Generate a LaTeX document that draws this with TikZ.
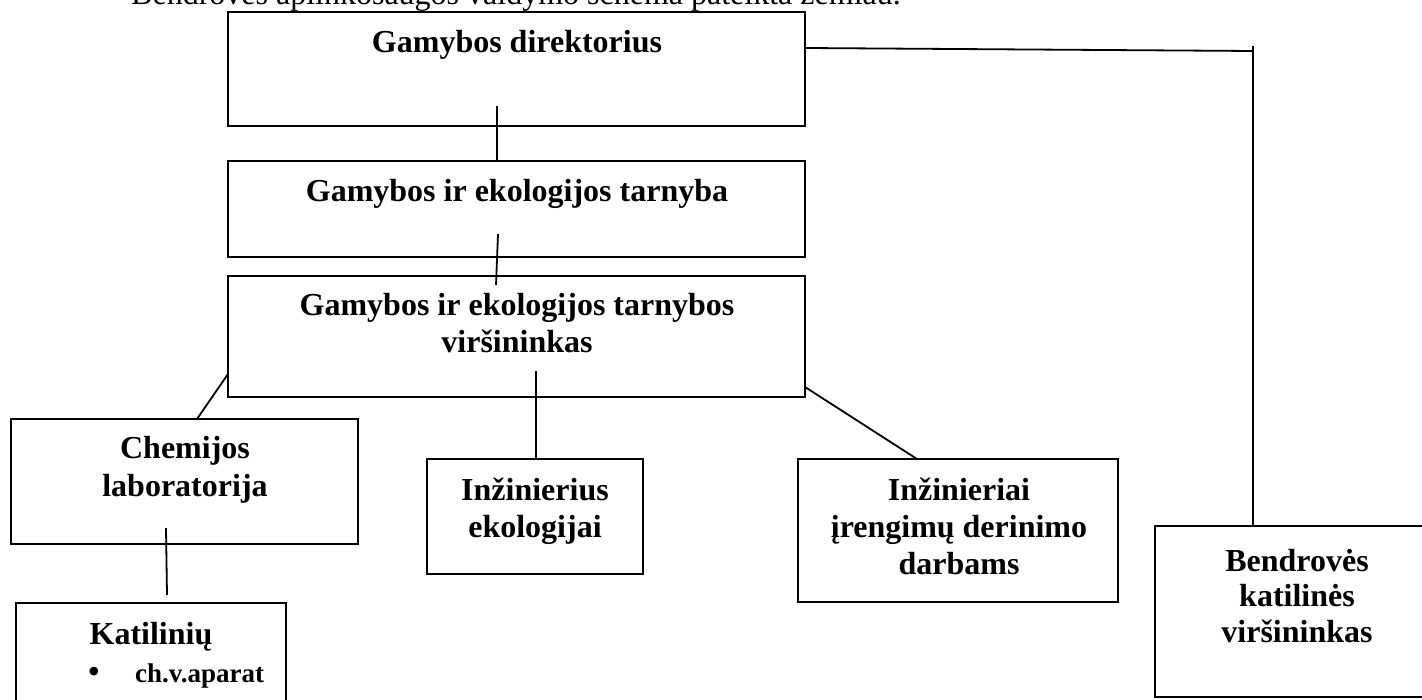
\documentclass[tikz,border=0pt]{standalone}
\usepackage{fontspec}
\setmainfont{Liberation Serif}
\tikzset{
  box/.style={draw=black, line width=2.6pt, inner sep=0pt, fill=none},
  conn/.style={draw=black, line width=1.8pt},
  lbl/.style={font=\fontsize{32}{37}\selectfont\bfseries, inner sep=0pt, anchor=base},
  small/.style={font=\fontsize{27}{32}\selectfont\bfseries, inner sep=0pt, anchor=base west},
  hdr/.style={font=\fontsize{32}{37}\selectfont, inner sep=0pt, anchor=base west}
}
\begin{document}
\begin{tikzpicture}[x=1pt,y=-1pt]
\useasboundingbox (0,0) rectangle (1422,700);
\clip (0,0) rectangle (1422,700);
\fill[white] (0,0) rectangle (1422,700);
% header (cut at top)
\node[hdr] (hdr) at (131,5) {Bendrovės aplinkosaugos valdymo schema pateikta žemiau.};
% boxes
\node[box, minimum width=577pt, minimum height=114pt] (b1) at (516.5,69) {};
\node[box, minimum width=577pt, minimum height=96pt] (b2) at (516.5,209) {};
\node[box, minimum width=577pt, minimum height=121pt] (b3) at (516.5,336.5) {};
\node[box, minimum width=347pt, minimum height=125pt] (chem) at (184.5,481.5) {};
\node[box, minimum width=270pt, minimum height=130pt] (kat) at (151,668) {};
\node[box, minimum width=216pt, minimum height=115pt] (inz) at (535,516.5) {};
\node[box, minimum width=320pt, minimum height=143pt] (inzr) at (958,530.5) {};
\node[box, minimum width=285pt, minimum height=171pt] (bend) at (1297.5,611.5) {};
% texts
\node[lbl] (t1) at (517,53) {Gamybos direktorius};
\node[lbl] (t2) at (517,202) {Gamybos ir ekologijos tarnyba};
\node[lbl] (t3a) at (517,316) {Gamybos ir ekologijos tarnybos};
\node[lbl] (t3b) at (517,353) {viršininkas};
\node[lbl] (tc1) at (185,459) {Chemijos};
\node[lbl] (tc2) at (185,496) {laboratorija};
\node[lbl] (tk1) at (151,644) {Katilinių};
\node[font=\fontsize{36}{40}\selectfont, inner sep=0pt, anchor=base] (tkb) at (94,683) {•};
\node[small] (tk2) at (135,682) {ch.v.aparat};
\node[lbl] (ti1) at (535,500) {Inžinierius};
\node[lbl] (ti2) at (535,537) {ekologijai};
\node[lbl] (tr1) at (959,500) {Inžinieriai};
\node[lbl] (tr2) at (959,537) {įrengimų derinimo};
\node[lbl] (tr3) at (959,574) {darbams};
\node[lbl] (tb1) at (1297,571) {Bendrovės};
\node[lbl] (tb2) at (1297,606) {katilinės};
\node[lbl] (tb3) at (1297,642) {viršininkas};
% connectors
\coordinate (c1s) at (497,106);
\draw[conn] (c1s) -- (c1s |- b2.north);
\coordinate (c2s) at (498,234);
\coordinate (c2e) at (496,285);
\draw[conn] (c2s) -- (c2e);
\coordinate (c3s) at (228,374);
\coordinate (c3e) at (197,419);
\draw[conn] (c3s) -- (c3e);
\coordinate (c4s) at (536,371);
\draw[conn] (c4s) -- (c4s |- inz.north);
\coordinate (c5s) at (805,387);
\coordinate (c5e) at (917,459);
\draw[conn] (c5s) -- (c5e);
\coordinate (c6s) at (166,528);
\coordinate (c6e) at (167,595);
\draw[conn] (c6s) -- (c6e);
\coordinate (c7a) at (805,48);
\coordinate (c7b) at (1253,51);
\coordinate (c7t) at (1253,46);
\draw[conn] (c7a) -- (c7b);
\draw[conn] (c7t) -- (c7t |- bend.north);
\end{tikzpicture}
\end{document}
